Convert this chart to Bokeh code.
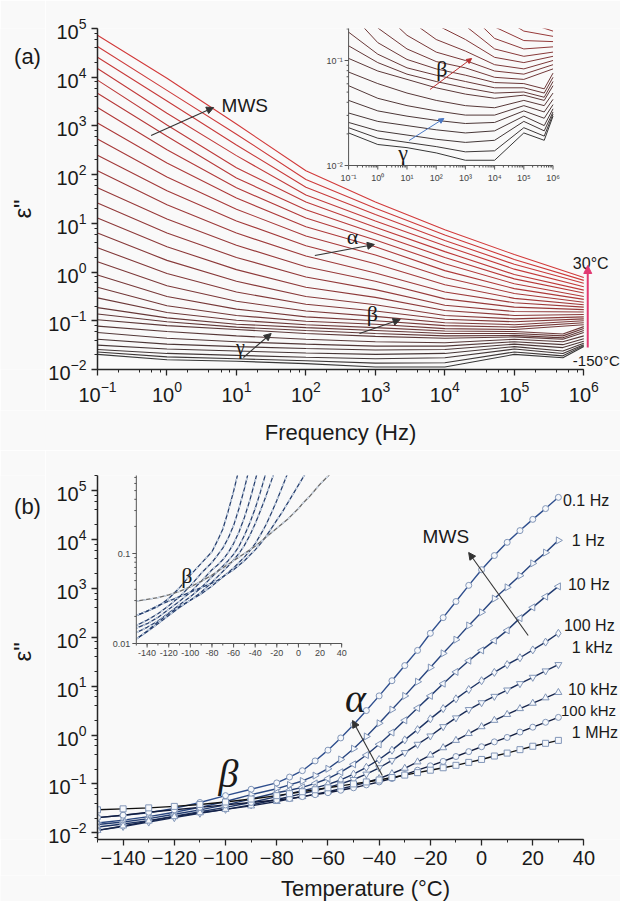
import numpy as np
from bokeh.plotting import figure
from bokeh.layouts import column, row
from bokeh.models import (Range1d, LogTicker, SingleIntervalTicker, Label, Arrow,
                          NormalHead, ColumnDataSource)
from bokeh.core.properties import value
from bokeh.embed import file_html
from bokeh.resources import INLINE

# ---------------- data ----------------
temps_C = [-150, -140, -130, -120, -110, -100, -90, -80, -75, -70, -65, -60, -55, -50,
           -45, -40, -35, -30, -25, -20, -15, -10, -5, 0, 5, 10, 15, 20, 25, 30]
freqs_Hz = [0.1, 1, 10, 100, 1e3, 1e4, 1e5, 1e6]
freq_labels = ["0.1 Hz", "1 Hz", "10 Hz", "100 Hz", "1 kHz", "10 kHz", "100 kHz", "1 MHz"]

# log10(eps'') versus temperature, one list per measuring frequency
log_eps_0p1Hz = [-1.69, -1.64, -1.59, -1.50, -1.38, -1.24, -1.11, -0.98, -0.86, -0.73,
                 -0.53, -0.31, -0.06, 0.21, 0.50, 0.80, 1.11, 1.42, 1.73, 2.08,
                 2.40, 2.73, 3.06, 3.38, 3.67, 3.94, 4.18, 4.41, 4.63, 4.86]
log_eps_1Hz = [-1.80, -1.74, -1.67, -1.58, -1.48, -1.36, -1.22, -1.10, -1.02, -0.94,
               -0.83, -0.69, -0.50, -0.28, -0.03, 0.24, 0.52, 0.80, 1.09, 1.38,
               1.67, 1.95, 2.24, 2.51, 2.79, 3.02, 3.26, 3.51, 3.73, 3.98]
log_eps_10Hz = [-1.83, -1.78, -1.71, -1.62, -1.53, -1.43, -1.31, -1.18, -1.13, -1.07,
                -0.99, -0.89, -0.76, -0.60, -0.41, -0.19, 0.05, 0.30, 0.55, 0.80,
                1.05, 1.29, 1.52, 1.73, 1.93, 2.14, 2.39, 2.61, 2.83, 3.04]
log_eps_100Hz = [-1.88, -1.82, -1.75, -1.66, -1.57, -1.48, -1.38, -1.26, -1.20, -1.14,
                 -1.08, -1.01, -0.92, -0.80, -0.66, -0.50, -0.31, -0.10, 0.11, 0.33,
                 0.54, 0.74, 0.93, 1.11, 1.28, 1.44, 1.58, 1.74, 1.90, 2.08]
log_eps_1kHz = [-1.95, -1.87, -1.78, -1.69, -1.60, -1.52, -1.43, -1.32, -1.26, -1.20,
                -1.14, -1.07, -1.00, -0.91, -0.80, -0.67, -0.52, -0.36, -0.19, -0.02,
                0.17, 0.35, 0.52, 0.66, 0.79, 0.92, 1.05, 1.18, 1.31, 1.44]
log_eps_10kHz = [-1.95, -1.86, -1.76, -1.67, -1.59, -1.52, -1.45, -1.36, -1.31, -1.26,
                 -1.21, -1.16, -1.10, -1.04, -0.97, -0.89, -0.79, -0.68, -0.55, -0.41,
                 -0.26, -0.11, 0.03, 0.17, 0.30, 0.42, 0.54, 0.65, 0.76, 0.87]
log_eps_100kHz = [-1.69, -1.64, -1.58, -1.53, -1.48, -1.43, -1.38, -1.33, -1.30, -1.26,
                  -1.22, -1.18, -1.13, -1.08, -1.02, -0.96, -0.89, -0.81, -0.72, -0.63,
                  -0.54, -0.44, -0.34, -0.24, -0.14, -0.05, 0.06, 0.16, 0.26, 0.36]
log_eps_1MHz = [-1.53, -1.51, -1.49, -1.46, -1.42, -1.37, -1.31, -1.24, -1.20, -1.16,
                -1.12, -1.08, -1.04, -1.00, -0.96, -0.92, -0.87, -0.82, -0.77, -0.72,
                -0.67, -0.62, -0.56, -0.50, -0.43, -0.37, -0.30, -0.23, -0.17, -0.11]
# instrument dip near 500 kHz seen in the low-temperature spectra (first temperatures)
dip_freq_Hz = 5e5
log_eps_500kHz_dip = [-1.76, -1.72, -1.67, -1.62, -1.55, -1.49, -1.43, -1.38, -1.35, -1.31, -1.27]

series = [log_eps_0p1Hz, log_eps_1Hz, log_eps_10Hz, log_eps_100Hz,
          log_eps_1kHz, log_eps_10kHz, log_eps_100kHz, log_eps_1MHz]

# ---------------- style ----------------
BG = "#f9f9f9"
SANS = "Liberation Sans"
SERIF = "Liberation Serif"
AX = "#262626"
TXT = "#1a1a1a"
LEFT_W = 45  # width of the left strip holding panel letter and y title


def mix(c0, c1, t):
    return "#%02x%02x%02x" % tuple(int(round(a + (b - a) * t)) for a, b in zip(c0, c1))


def style_axis(ax):
    ax.axis_line_color = AX
    ax.axis_line_width = 1.5
    ax.major_tick_line_color = AX
    ax.minor_tick_line_color = AX
    ax.major_tick_line_width = 1.3
    ax.major_tick_out = 6
    ax.major_tick_in = 0
    ax.minor_tick_out = 3
    ax.minor_tick_in = 0
    ax.major_label_text_font = SANS
    ax.major_label_text_font_size = "20px"
    ax.major_label_text_color = TXT
    ax.major_label_standoff = 5


def label(p, x, y, text, size, font=SANS, align="center", style="normal", color=TXT,
          angle=0.0, **kw):
    p.add_layout(Label(x=x, y=y, text=text, text_font=font, text_font_size=size,
                       text_align=align, text_baseline="middle", text_font_style=style,
                       text_color=color, angle=angle, **kw))


def arrow(p, x0, y0, x1, y1, color="#333333", width=1.1, head=7, **kw):
    p.add_layout(Arrow(end=NormalHead(size=head, fill_color=color, line_color=color),
                       x_start=x0, y_start=y0, x_end=x1, y_end=y1,
                       line_color=color, line_width=width, **kw))


def strip(w, h):
    """Plain text strip: its frame fills it, data units = pixels (y downward)."""
    s = figure(width=w, height=h, x_range=Range1d(0, w), y_range=Range1d(h, 0),
               x_axis_location=None, y_axis_location=None,
               output_backend="svg", toolbar_location=None,
               min_border_left=0, min_border_right=0, min_border_top=0, min_border_bottom=0,
               background_fill_color=BG, border_fill_color=BG, outline_line_color=None)
    s.grid.visible = False
    return s


n = len(temps_C)

# ================= panel (a): eps'' vs frequency =================
xs_a, ys_a = [], []
for i in range(n):
    fx = list(freqs_Hz)
    fy = [10 ** s[i] for s in series]
    if i < len(log_eps_500kHz_dip):
        fx.insert(7, dip_freq_Hz)
        fy.insert(7, 10 ** log_eps_500kHz_dip[i])
    xs_a.append(fx)
    ys_a.append(fy)
colors_a = [mix((55, 55, 55), (210, 58, 58), i / (n - 1)) for i in range(n)]
src_a = ColumnDataSource(dict(xs=xs_a, ys=ys_a, color=colors_a))

A_L, A_T, A_B, A_R = 93, 28, 369, 620
A_H = 410
A_DEC_X = 70.0
A_DEC_Y = (A_B - A_T) / 7.0
xa_end = 10 ** (-1 + (A_R - A_L) / A_DEC_X)

pa = figure(width=620 - LEFT_W, height=A_H, x_axis_type="log", y_axis_type="log",
            x_range=Range1d(0.1, xa_end), y_range=Range1d(1e-2, 1e5),
            output_backend="svg", toolbar_location=None,
            min_border_left=A_L - LEFT_W, min_border_right=0, min_border_top=A_T,
            min_border_bottom=A_H - A_B,
            background_fill_color=BG, border_fill_color=BG, outline_line_color=None)
pa.grid.visible = False
style_axis(pa.xaxis[0])
style_axis(pa.yaxis[0])
pa.xaxis.ticker = LogTicker(desired_num_ticks=8)
pa.yaxis.ticker = LogTicker(desired_num_ticks=8)
pa.xaxis.bounds = (0.1, 1e6)

pa.multi_line("xs", "ys", source=src_a, line_color="color", line_width=1.1)


def a_x(px):
    return 10 ** (-1 + (px - A_L) / A_DEC_X)


def a_y(py):
    return 10 ** (5 - (py - A_T) / A_DEC_Y)


# inset of panel (a) (own log ranges mapped onto the same frame)
IA_L, IA_B, IA_DX, IA_DY = 346, 165, 29.43, 105.0


def ia_x(px):
    return 10 ** (-1 + (px - IA_L) / IA_DX)


def ia_y(py):
    return 10 ** (-2 + (IA_B - py) / IA_DY)


pa.extra_x_ranges = {"ix": Range1d(ia_x(A_L), ia_x(A_R))}
pa.extra_y_ranges = {"iy": Range1d(ia_y(A_B), ia_y(A_T))}
IN = dict(x_range_name="ix", y_range_name="iy")
pa.multi_line("xs", "ys", source=src_a, line_color="color", line_width=1.0, **IN)

IAX = "#555555"
ia_dec = [10.0 ** k for k in range(-1, 7)]
ia_minor = [m * 10.0 ** k for k in range(-1, 6) for m in range(2, 10)]
pa.segment(x0=[0.1, 0.1], y0=[0.01, 0.01], x1=[1e6, 0.1], y1=[0.01, 10.0],
           line_color=IAX, line_width=1.0, **IN)
pa.segment(x0=ia_dec, y0=[0.01] * len(ia_dec), x1=ia_dec,
           y1=[0.01 * 10 ** (-4 / IA_DY)] * len(ia_dec), line_color=IAX, **IN)
pa.segment(x0=ia_minor, y0=[0.01] * len(ia_minor), x1=ia_minor,
           y1=[0.01 * 10 ** (-2 / IA_DY)] * len(ia_minor), line_color=IAX, **IN)
ia_ydec = [0.01, 0.1]
ia_yminor = [m * 0.01 for m in range(2, 10)] + [0.2]
pa.segment(x0=[0.1] * 2, y0=ia_ydec, x1=[0.1 * 10 ** (-4 / IA_DX)] * 2, y1=ia_ydec,
           line_color=IAX, **IN)
pa.segment(x0=[0.1] * len(ia_yminor), y0=ia_yminor,
           x1=[0.1 * 10 ** (-2 / IA_DX)] * len(ia_yminor), y1=ia_yminor,
           line_color=IAX, **IN)
sup = {"-": "\u207b", "0": "\u2070", "1": "\u00b9", "2": "\u00b2", "3": "\u00b3",
       "4": "\u2074", "5": "\u2075", "6": "\u2076"}
ia_xlab = ["10" + "".join(sup[c] for c in str(k)) for k in range(-1, 7)]
pa.text(x=ia_dec, y=[0.01 * 10 ** (-7 / IA_DY)] * len(ia_dec), text=ia_xlab,
        text_font=value(SANS), text_font_size="9px", text_color="#444444",
        text_align="center", text_baseline="top", **IN)
pa.text(x=[0.1 * 10 ** (-6 / IA_DX)] * 2, y=ia_ydec, text=["10\u207b\u00b2", "10\u207b\u00b9"],
        text_font=value(SANS), text_font_size="9px", text_color="#444444",
        text_align="right", text_baseline="middle", **IN)

# annotations panel (a)
label(pa, a_x(218), a_y(105), "MWS", "19px", align="left")
arrow(pa, a_x(147), a_y(135), a_x(210), a_y(107))
label(pa, a_x(350), a_y(236), "\u03b1", "22px", font=SERIF)
arrow(pa, a_x(312), a_y(255), a_x(372), a_y(244))
label(pa, a_x(370), a_y(313), "\u03b2", "22px", font=SERIF)
arrow(pa, a_x(357), a_y(333), a_x(398), a_y(319))
label(pa, a_x(237), a_y(346), "\u03b3", "20px", font=SERIF)
arrow(pa, a_x(240), a_y(357), a_x(268), a_y(333))
label(pa, a_x(572), a_y(263), "30\u00b0C", "16px", align="left")
label(pa, a_x(572), a_y(360), "-150\u00b0C", "15px", align="left")
arrow(pa, a_x(587), a_y(347), a_x(587), a_y(265), color="#e23a72", width=2, head=8)
label(pa, ia_x(440), ia_y(68), "\u03b2", "22px", font=SERIF, **IN)
arrow(pa, ia_x(428), ia_y(89), ia_x(470), ia_y(58), color="#b83232", width=1, head=5, **IN)
label(pa, ia_x(401), ia_y(152), "\u03b3", "22px", font=SERIF, **IN)
arrow(pa, ia_x(407), ia_y(140), ia_x(442), ia_y(118), color="#4a78c4", width=1, head=5, **IN)

# left strip and title strip of panel (a)
la = strip(LEFT_W, A_H)
label(la, 27, 34, "(a)", "22px")
label(la, 22, 217, "\u03b5\"", "24px", angle=np.pi / 2)
sa = strip(620, 450 - A_H)
label(sa, 340, 432 - A_H, "Frequency (Hz)", "22px")

# ================= panel (b): eps'' vs temperature =================
B_L, B_R = 93, 620
B_TOP = 450          # absolute top of panel (b) row
B_H = 425
B_T_ABS, B_B_ABS = 475, 839
B_PX_C = 2.58
B_DEC_Y = 48.9


def b_x(px):
    return -150 + (px - B_L) / B_PX_C


def b_y(py):
    return 10 ** (5 - (py - 490) / B_DEC_Y)


pb = figure(width=620 - LEFT_W, height=B_H, y_axis_type="log",
            x_range=Range1d(-150, b_x(B_R)), y_range=Range1d(b_y(B_B_ABS), b_y(B_T_ABS)),
            output_backend="svg", toolbar_location=None,
            min_border_left=B_L - LEFT_W, min_border_right=0, min_border_top=B_T_ABS - B_TOP,
            min_border_bottom=B_TOP + B_H - B_B_ABS,
            background_fill_color=BG, border_fill_color=BG, outline_line_color=None)
pb.grid.visible = False
style_axis(pb.xaxis[0])
style_axis(pb.yaxis[0])
pb.xaxis.ticker = SingleIntervalTicker(interval=20, num_minor_ticks=2)
pb.xaxis.bounds = (-150, 40)
pb.yaxis.ticker = LogTicker(desired_num_ticks=8)

line_cols_b = ["#2f4f8e", "#294680", "#233d72", "#1e3464", "#1a2c57", "#16244a",
               "#121c3d", "#111111"]
markers_b = ["circle", "triangle", "triangle", "diamond", "inverted_triangle",
             "triangle", "circle", "square"]
angles_b = [0.0, -np.pi / 2, np.pi / 2, 0.0, 0.0, 0.0, 0.0, 0.0]
sizes_b = [6, 7, 7, 8, 7, 7, 6, 6]

for k, s in enumerate(series):
    ys = [10 ** v for v in s]
    pb.line(temps_C, ys, line_color=line_cols_b[k], line_width=1.4)
for k, s in enumerate(series):
    ys = [10 ** v for v in s]
    pb.scatter(temps_C, ys, marker=markers_b[k], angle=angles_b[k], size=sizes_b[k],
               line_color="#8296b8", fill_color="#f6f8fb", line_width=1.0)

# inset of panel (b)
IB_X0, IB_PX_C, IB_B, IB_DY = 143, 1.089, 643, 90.0


def ib_x(px):
    return -140 + (px - IB_X0) / IB_PX_C


def ib_y(py):
    return 10 ** (-2 + (IB_B - py) / IB_DY)


pb.extra_x_ranges = {"ix": Range1d(ib_x(B_L), ib_x(B_R))}
pb.extra_y_ranges = {"iy": Range1d(ib_y(B_B_ABS), ib_y(B_T_ABS))}
INB = dict(x_range_name="ix", y_range_name="iy")
inset_cols_b = ["#27406f"] * 7 + ["#6a6a6a"]
for k, s in enumerate(series):
    ys = [10 ** v for v in s]
    pb.line(temps_C, ys, line_color=inset_cols_b[k], line_width=1.3, **INB)
    pb.line(temps_C, ys, line_color="#cfdbea", line_width=1.3, line_dash="3 4", **INB)

ib_major = list(range(-140, 41, 20))
ib_minor = list(range(-150, 41, 10))
pb.segment(x0=[-150, -150], y0=[0.01, 0.01], x1=[40, -150], y1=[0.01, 10.0],
           line_color=IAX, line_width=1.0, **INB)
pb.segment(x0=ib_major, y0=[0.01] * len(ib_major), x1=ib_major,
           y1=[0.01 * 10 ** (-4 / IB_DY)] * len(ib_major), line_color=IAX, **INB)
pb.segment(x0=ib_minor, y0=[0.01] * len(ib_minor), x1=ib_minor,
           y1=[0.01 * 10 ** (-2 / IB_DY)] * len(ib_minor), line_color=IAX, **INB)
ib_ydec = [0.01, 0.1]
ib_yminor = [m * 0.01 for m in range(2, 10)] + [m * 0.1 for m in range(2, 8)]
dx4 = 4 / IB_PX_C
dx2 = 2 / IB_PX_C
pb.segment(x0=[-150] * 2, y0=ib_ydec, x1=[-150 - dx4] * 2, y1=ib_ydec, line_color=IAX, **INB)
pb.segment(x0=[-150] * len(ib_yminor), y0=ib_yminor, x1=[-150 - dx2] * len(ib_yminor),
           y1=ib_yminor, line_color=IAX, **INB)
pb.text(x=ib_major, y=[0.01 * 10 ** (-6 / IB_DY)] * len(ib_major),
        text=[str(t) for t in ib_major], text_font=value(SANS), text_font_size="9px",
        text_color="#444444", text_align="center", text_baseline="top", **INB)
pb.text(x=[-150 - 6 / IB_PX_C] * 2, y=ib_ydec, text=["0.01", "0.1"],
        text_font=value(SANS), text_font_size="9px", text_color="#444444",
        text_align="right", text_baseline="middle", **INB)

# annotations panel (b)
lab_px = [(562, 500), (571, 540), (567, 584), (563, 625), (571, 647), (567, 689),
          (560, 710), (571, 732)]
lab_size = ["16px", "16px", "16px", "16px", "16px", "16px", "15px", "16px"]
for txt, (px, py), fs in zip(freq_labels, lab_px, lab_size):
    label(pb, b_x(px), b_y(py), txt, fs, align="left")
label(pb, b_x(444), b_y(536), "MWS", "19px")
arrow(pb, b_x(527), b_y(635), b_x(467), b_y(552))
label(pb, b_x(353), b_y(698), "\u03b1", "40px", font=SERIF, style="italic")
arrow(pb, b_x(380), b_y(775), b_x(350), b_y(720))
label(pb, b_x(225), b_y(773), "\u03b2", "40px", font=SERIF, style="italic")
label(pb, ib_x(183), ib_y(575), "\u03b2", "22px", font=SERIF, **INB)

lb = strip(LEFT_W, B_H)
label(lb, 27, 486 - B_TOP, "(b)", "22px")
label(lb, 22, 656 - B_TOP, "\u03b5\"", "24px", angle=np.pi / 2)
sb = strip(620, 901 - B_TOP - B_H)
label(sb, 365, 888 - B_TOP - B_H, "Temperature (\u00b0C)", "22px")

layout = column(row(la, pa, spacing=0), sa, row(lb, pb, spacing=0), sb, spacing=0)
open("out.html", "w").write(file_html(layout, INLINE))
